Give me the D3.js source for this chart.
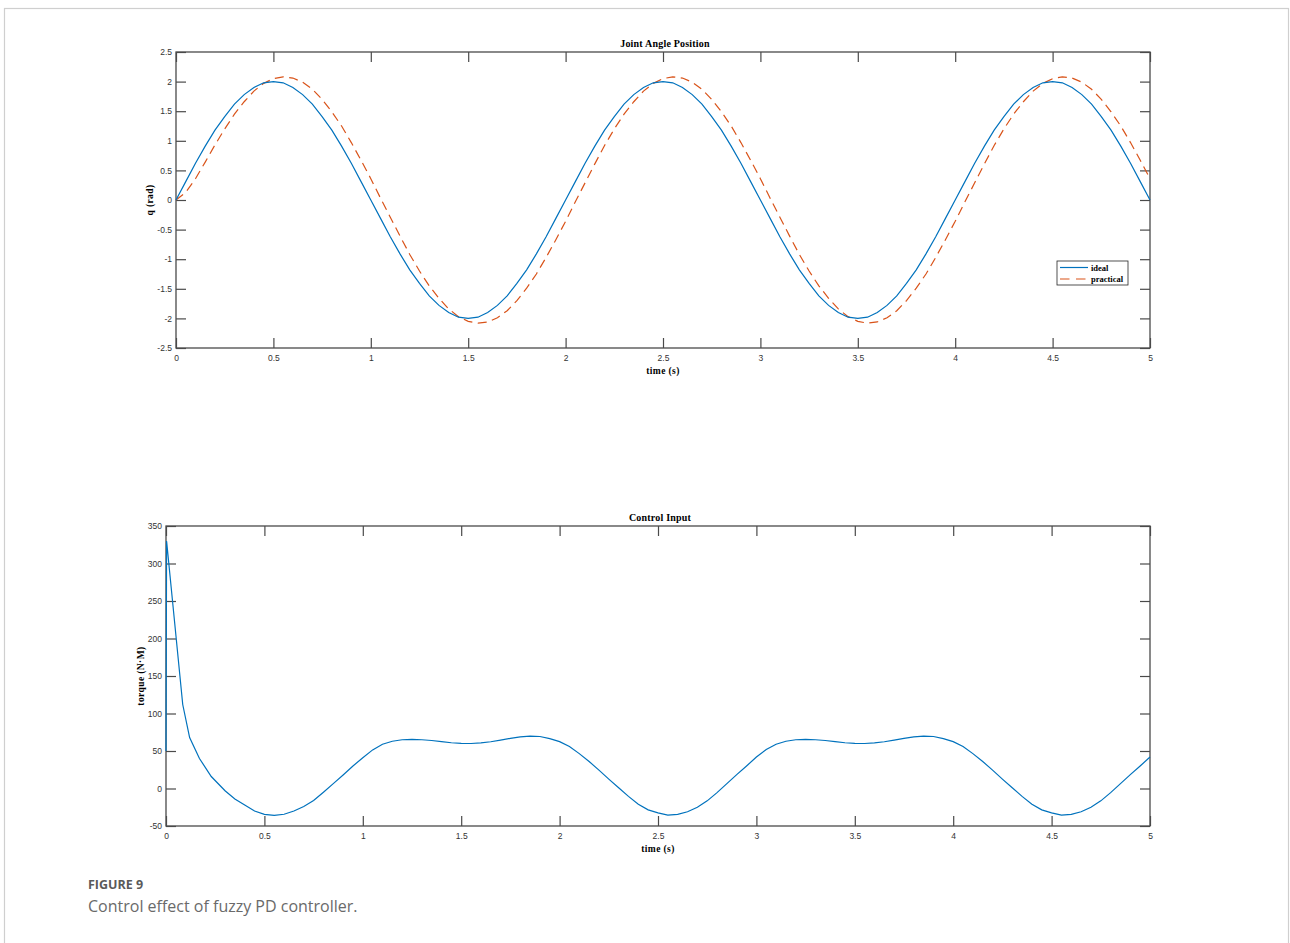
<!DOCTYPE html>
<html>
<head>
<meta charset="utf-8">
<title>Figure 9</title>
<script src="https://d3js.org/d3.v7.min.js" charset="utf-8"></script>
<style>
  body { margin: 0; background: #fff; }
</style>
</head>
<body>
<script>
// simulation output, sampled every 0.05 s
var qTime = d3.range(0, 101).map(function(i) { return +(i * 0.05).toFixed(2); });

var qIdeal = [
  0, 0.31, 0.62, 0.91, 1.18, 1.41, 1.62, 1.78, 1.90, 1.98, 2.00, 1.98, 1.90, 1.78, 1.62, 1.41, 1.18, 0.91, 0.62, 0.31,
  0, -0.31, -0.62, -0.91, -1.18, -1.41, -1.62, -1.78, -1.90, -1.98, -2.00, -1.98, -1.90, -1.78, -1.62, -1.41, -1.18, -0.91, -0.62, -0.31,
  0, 0.31, 0.62, 0.91, 1.18, 1.41, 1.62, 1.78, 1.90, 1.98, 2.00, 1.98, 1.90, 1.78, 1.62, 1.41, 1.18, 0.91, 0.62, 0.31,
  0, -0.31, -0.62, -0.91, -1.18, -1.41, -1.62, -1.78, -1.90, -1.98, -2.00, -1.98, -1.90, -1.78, -1.62, -1.41, -1.18, -0.91, -0.62, -0.31,
  0, 0.31, 0.62, 0.91, 1.18, 1.41, 1.62, 1.78, 1.90, 1.98, 2.00, 1.98, 1.90, 1.78, 1.62, 1.41, 1.18, 0.91, 0.62, 0.31,
  0
];

var qPractical = [
  0, 0.13, 0.36, 0.64, 0.93, 1.20, 1.45, 1.66, 1.84, 1.97, 2.05, 2.08, 2.06, 1.99, 1.87, 1.70, 1.49, 1.25, 0.97, 0.67,
  0.36, 0.03, -0.29, -0.61, -0.92, -1.20, -1.45, -1.66, -1.84, -1.97, -2.05, -2.08, -2.06, -1.99, -1.87, -1.70, -1.49, -1.25, -0.97, -0.67,
  -0.36, -0.03, 0.29, 0.61, 0.92, 1.20, 1.45, 1.66, 1.84, 1.97, 2.05, 2.08, 2.06, 1.99, 1.87, 1.70, 1.49, 1.25, 0.97, 0.67,
  0.36, 0.03, -0.29, -0.61, -0.92, -1.20, -1.45, -1.66, -1.84, -1.97, -2.05, -2.08, -2.06, -1.99, -1.87, -1.70, -1.49, -1.25, -0.97, -0.67,
  -0.36, -0.03, 0.29, 0.61, 0.92, 1.20, 1.45, 1.66, 1.84, 1.97, 2.05, 2.08, 2.06, 1.99, 1.87, 1.70, 1.49, 1.25, 0.97, 0.67,
  0.36
];

var tauTime = [
  0, 0.003, 0.085, 0.12, 0.17, 0.23, 0.3, 0.35, 0.4, 0.45,
  0.5, 0.55, 0.6, 0.65, 0.7, 0.75, 0.8, 0.85, 0.9, 0.95,
  1.0, 1.05, 1.1, 1.15, 1.2, 1.25, 1.3, 1.35, 1.4, 1.45,
  1.5, 1.55, 1.6, 1.65, 1.7, 1.75, 1.8, 1.85, 1.9, 1.95,
  2.0, 2.05, 2.1, 2.15, 2.2, 2.25, 2.3, 2.35, 2.4, 2.45,
  2.5, 2.55, 2.6, 2.65, 2.7, 2.75, 2.8, 2.85, 2.9, 2.95,
  3.0, 3.05, 3.1, 3.15, 3.2, 3.25, 3.3, 3.35, 3.4, 3.45,
  3.5, 3.55, 3.6, 3.65, 3.7, 3.75, 3.8, 3.85, 3.9, 3.95,
  4.0, 4.05, 4.1, 4.15, 4.2, 4.25, 4.3, 4.35, 4.4, 4.45,
  4.5, 4.55, 4.6, 4.65, 4.7, 4.75, 4.8, 4.85, 4.9, 4.95,
  5.0
];

var tauValue = [
  50, 330, 112, 68, 40, 16, -3, -14, -22, -30,
  -34.5, -35.7, -34.3, -30, -24, -16, -5, 6.5, 18, 30,
  41, 51.5, 59, 63, 65, 65.5, 65, 64, 62.5, 61,
  60.2, 60, 60.8, 62.3, 64.5, 66.8, 68.8, 69.8, 69.3, 66.5,
  62.5, 56, 46.5, 36, 24.5, 12.5, 1, -10.5, -21, -28.5,
  -32.5, -35.5, -34.5, -31, -25, -16.5, -5.5, 6.5, 18.5, 30,
  42, 52, 59, 63, 65, 65.5, 65, 64, 62.5, 61,
  60.2, 60, 60.8, 62.3, 64.5, 66.8, 68.8, 69.8, 69.3, 66.5,
  62.5, 56, 46.5, 36, 24.5, 12.5, 1, -10.5, -21, -28.5,
  -32.5, -35.5, -34.5, -31, -25, -16.5, -5.5, 6.5, 18.5, 30,
  42
];

var timeTicks = [0, 0.5, 1, 1.5, 2, 2.5, 3, 3.5, 4, 4.5, 5];
var qTicks = [-2.5, -2, -1.5, -1, -0.5, 0, 0.5, 1, 1.5, 2, 2.5];
var tauTicks = [-50, 0, 50, 100, 150, 200, 250, 300, 350];
var legendNames = ["ideal", "practical"];

var width = 1290, height = 943;
var blue = "#0072BD", orange = "#D95319";
var axisColor = "#4a4a4a";
var dashes = "9,5.5";
var serif = "'Liberation Serif', 'Times New Roman', serif";
var sans = "'Liberation Sans', Arial, sans-serif";

var svg = d3.select("body")
            .append("svg")
            .attr("width", width)
            .attr("height", height);

// page frame
svg.append("rect")
   .attr("x", 4.5).attr("y", 8.5)
   .attr("width", 1284).attr("height", 950)
   .style("fill", "none")
   .style("stroke", "#cfcfcf")
   .style("stroke-width", 1.2);

function numFmt(d) { return String(d); }

function drawPanel(box, yDomain, yTicks, title, yLabel, xPad) {
  var x = d3.scaleLinear().domain([0, 5]).range([box.left, box.right]);
  var y = d3.scaleLinear().domain(yDomain).range([box.bottom, box.top]);
  var g = svg.append("g");

  var axes = [
    { gen: d3.axisBottom(x).tickValues(timeTicks).tickFormat(numFmt).tickPadding(xPad), tr: [0, box.bottom] },
    { gen: d3.axisTop(x).tickValues(timeTicks).tickFormat(""), tr: [0, box.top] },
    { gen: d3.axisLeft(y).tickValues(yTicks).tickFormat(numFmt).tickPadding(4), tr: [box.left, 0] },
    { gen: d3.axisRight(y).tickValues(yTicks).tickFormat(""), tr: [box.right, 0] }
  ];
  axes.forEach(function(a) {
    var ag = g.append("g")
              .attr("transform", "translate(" + a.tr[0] + "," + a.tr[1] + ")")
              .call(a.gen.tickSizeInner(-10).tickSizeOuter(0));
    ag.select(".domain").remove();
    ag.selectAll("line").style("stroke", axisColor).style("stroke-width", 1.2);
    ag.selectAll("text")
      .style("font-family", sans)
      .style("font-size", "8.5px")
      .style("fill", "#333");
  });

  g.append("rect")
   .attr("x", box.left).attr("y", box.top)
   .attr("width", box.right - box.left).attr("height", box.bottom - box.top)
   .style("fill", "none")
   .style("stroke", axisColor)
   .style("stroke-width", 1.3);

  g.append("text")
   .attr("x", (box.left + box.right) / 2 + 2)
   .attr("y", box.top - 5)
   .attr("text-anchor", "middle")
   .style("font-family", serif).style("font-weight", "bold")
   .style("font-size", "10px").style("letter-spacing", "0.2px")
   .text(title);

  g.append("text")
   .attr("x", (box.left + box.right) / 2)
   .attr("y", box.bottom + 26)
   .attr("text-anchor", "middle")
   .style("font-family", serif).style("font-weight", "bold")
   .style("font-size", "9.5px").style("letter-spacing", "0.4px")
   .text("time (s)");

  g.append("text")
   .attr("transform", "translate(" + (box.left - box.yLabelOff) + "," + ((box.top + box.bottom) / 2) + ") rotate(-90)")
   .attr("text-anchor", "middle")
   .style("font-family", serif).style("font-weight", "bold")
   .style("font-size", "9.5px").style("letter-spacing", "0.4px")
   .text(yLabel);

  return { x: x, y: y, g: g };
}

// top panel: joint angle
var anglePanel = drawPanel({ left: 176, right: 1150, top: 52, bottom: 348, yLabelOff: 23 },
                    [-2.5, 2.5], qTicks, "Joint Angle Position", "q (rad)", 7);

var qLine = d3.line()
              .x(function(d) { return anglePanel.x(d[0]); })
              .y(function(d) { return anglePanel.y(d[1]); });

anglePanel.g.append("path")
     .datum(d3.zip(qTime, qPractical))
     .attr("d", qLine)
     .style("fill", "none").style("stroke", orange)
     .style("stroke-width", 1.2).style("stroke-dasharray", dashes);

anglePanel.g.append("path")
     .datum(d3.zip(qTime, qIdeal))
     .attr("d", qLine)
     .style("fill", "none").style("stroke", blue)
     .style("stroke-width", 1.2);

// legend
var lg = anglePanel.g.append("g").attr("transform", "translate(1057,261)");
lg.append("rect")
  .attr("width", 71).attr("height", 24)
  .style("fill", "#fff").style("stroke", "#262626").style("stroke-width", 0.8);
legendNames.forEach(function(name, i) {
  var yy = 6.5 + i * 11.5;
  lg.append("line")
    .attr("x1", 3).attr("x2", 31).attr("y1", yy).attr("y2", yy)
    .style("stroke", i === 0 ? blue : orange)
    .style("stroke-width", 1.2)
    .style("stroke-dasharray", i === 0 ? null : "9.5,6.5");
  lg.append("text")
    .attr("x", 34).attr("y", yy + 3)
    .style("font-family", serif).style("font-weight", "bold")
    .style("font-size", "8.5px")
    .text(name);
});

// bottom panel: control input
var torquePanel = drawPanel({ left: 166, right: 1150, top: 526, bottom: 826, yLabelOff: 22 },
                    [-50, 350], tauTicks, "Control Input", "torque (N\u00B7M)", 7);

torquePanel.g.append("path")
     .datum(d3.zip(tauTime, tauValue))
     .attr("d", d3.line()
                  .x(function(d) { return torquePanel.x(d[0]); })
                  .y(function(d) { return torquePanel.y(d[1]); }))
     .style("fill", "none").style("stroke", blue)
     .style("stroke-width", 1.2);

// caption
svg.append("text")
   .attr("x", 88).attr("y", 889)
   .style("font-family", "'Open Sans', sans-serif").style("font-weight", "bold")
   .style("font-size", "12.5px").style("fill", "#5a5a5a")
   .text("FIGURE 9");

svg.append("text")
   .attr("x", 88).attr("y", 912)
   .style("font-family", "'Open Sans', sans-serif")
   .style("font-size", "16px").style("fill", "#6a6a6a")
   .text("Control effect of fuzzy PD controller.");
</script>
</body>
</html>
